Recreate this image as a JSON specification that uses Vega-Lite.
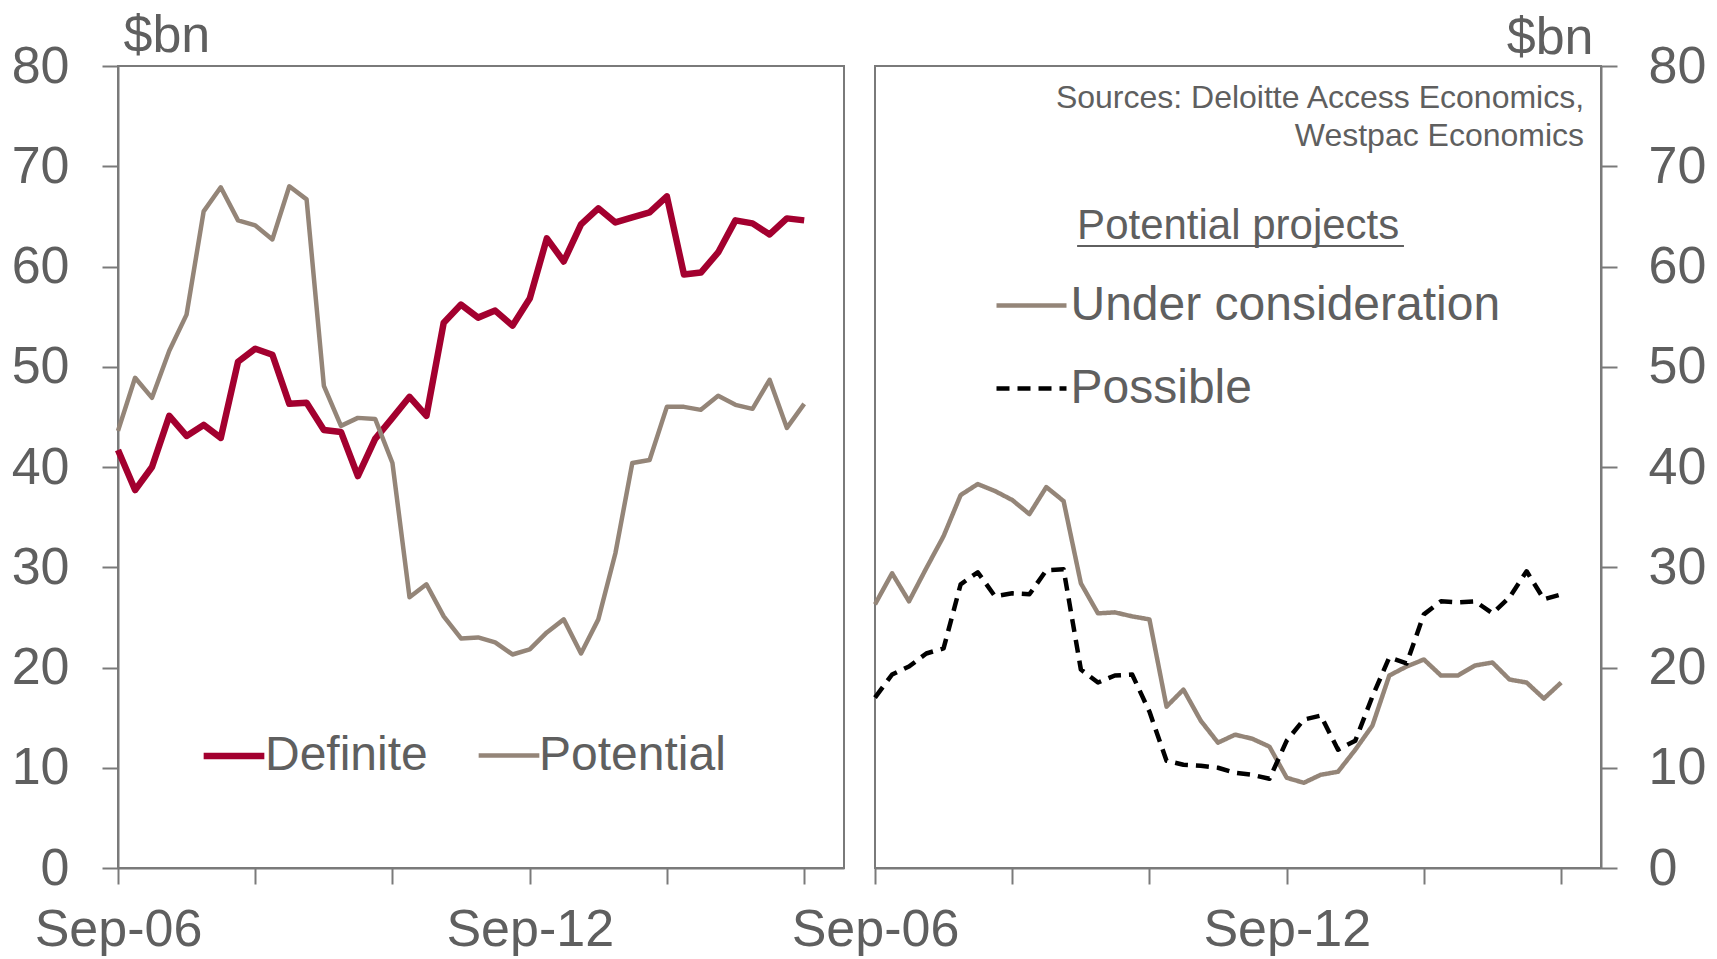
{
  "$schema": "https://vega.github.io/schema/vega-lite/v6.json",
  "padding": {"left": 10, "top": 8, "right": 0, "bottom": 0},
  "background": "white",
  "config": {
    "font": "Liberation Sans",
    "view": {"stroke": "#7a7a7a", "strokeWidth": 2},
    "axis": {"grid": false, "domainColor": "#7a7a7a", "domainWidth": 2, "tickColor": "#7a7a7a", "tickWidth": 2, "tickSize": 16, "labelFontSize": 52, "labelColor": "#5f5f5f", "titleColor": "#5f5f5f", "titleFontSize": 52, "titleFontWeight": "normal", "labelFont": "Liberation Sans", "titleFont": "Liberation Sans"},
    "legend": {"labelFont": "Liberation Sans", "labelFontSize": 48, "labelColor": "#5f5f5f", "symbolType": "stroke", "labelLimit": 0}
  },
  "datasets": {
    "projects": [
      {"date": "2006-09-01", "Definite": 41.7, "Potential": 43.6, "Under consideration": 26.3, "Possible": 17.0},
      {"date": "2006-12-01", "Definite": 37.7, "Potential": 48.9, "Under consideration": 29.4, "Possible": 19.3},
      {"date": "2007-03-01", "Definite": 40.0, "Potential": 46.9, "Under consideration": 26.6, "Possible": 20.1},
      {"date": "2007-06-01", "Definite": 45.1, "Potential": 51.6, "Under consideration": 29.9, "Possible": 21.4},
      {"date": "2007-09-01", "Definite": 43.1, "Potential": 55.2, "Under consideration": 33.1, "Possible": 21.9},
      {"date": "2007-12-01", "Definite": 44.2, "Potential": 65.5, "Under consideration": 37.2, "Possible": 28.3},
      {"date": "2008-03-01", "Definite": 42.9, "Potential": 67.9, "Under consideration": 38.3, "Possible": 29.5},
      {"date": "2008-06-01", "Definite": 50.5, "Potential": 64.6, "Under consideration": 37.6, "Possible": 27.1},
      {"date": "2008-09-01", "Definite": 51.8, "Potential": 64.1, "Under consideration": 36.7, "Possible": 27.4},
      {"date": "2008-12-01", "Definite": 51.2, "Potential": 62.7, "Under consideration": 35.3, "Possible": 27.3},
      {"date": "2009-03-01", "Definite": 46.3, "Potential": 68.0, "Under consideration": 38.0, "Possible": 29.7},
      {"date": "2009-06-01", "Definite": 46.4, "Potential": 66.7, "Under consideration": 36.6, "Possible": 29.8},
      {"date": "2009-09-01", "Definite": 43.7, "Potential": 48.1, "Under consideration": 28.4, "Possible": 19.8},
      {"date": "2009-12-01", "Definite": 43.5, "Potential": 44.1, "Under consideration": 25.4, "Possible": 18.5},
      {"date": "2010-03-01", "Definite": 39.1, "Potential": 44.9, "Under consideration": 25.5, "Possible": 19.2},
      {"date": "2010-06-01", "Definite": 42.8, "Potential": 44.8, "Under consideration": 25.1, "Possible": 19.3},
      {"date": "2010-09-01", "Definite": 44.9, "Potential": 40.4, "Under consideration": 24.8, "Possible": 15.6},
      {"date": "2010-12-01", "Definite": 47.0, "Potential": 27.0, "Under consideration": 16.1, "Possible": 10.7},
      {"date": "2011-03-01", "Definite": 45.1, "Potential": 28.3, "Under consideration": 17.8, "Possible": 10.3},
      {"date": "2011-06-01", "Definite": 54.4, "Potential": 25.1, "Under consideration": 14.7, "Possible": 10.2},
      {"date": "2011-09-01", "Definite": 56.2, "Potential": 22.9, "Under consideration": 12.5, "Possible": 10.0},
      {"date": "2011-12-01", "Definite": 54.9, "Potential": 23.0, "Under consideration": 13.3, "Possible": 9.5},
      {"date": "2012-03-01", "Definite": 55.6, "Potential": 22.5, "Under consideration": 12.9, "Possible": 9.3},
      {"date": "2012-06-01", "Definite": 54.1, "Potential": 21.3, "Under consideration": 12.1, "Possible": 8.9},
      {"date": "2012-09-01", "Definite": 56.8, "Potential": 21.8, "Under consideration": 9.0, "Possible": 12.7},
      {"date": "2012-12-01", "Definite": 62.8, "Potential": 23.5, "Under consideration": 8.5, "Possible": 14.8},
      {"date": "2013-03-01", "Definite": 60.5, "Potential": 24.8, "Under consideration": 9.3, "Possible": 15.2},
      {"date": "2013-06-01", "Definite": 64.2, "Potential": 21.4, "Under consideration": 9.6, "Possible": 11.8},
      {"date": "2013-09-01", "Definite": 65.8, "Potential": 24.8, "Under consideration": 11.8, "Possible": 12.7},
      {"date": "2013-12-01", "Definite": 64.4, "Potential": 31.4, "Under consideration": 14.2, "Possible": 17.1},
      {"date": "2014-03-01", "Definite": 64.9, "Potential": 40.4, "Under consideration": 19.2, "Possible": 21.0},
      {"date": "2014-06-01", "Definite": 65.4, "Potential": 40.7, "Under consideration": 20.1, "Possible": 20.4},
      {"date": "2014-09-01", "Definite": 67.0, "Potential": 46.0, "Under consideration": 20.8, "Possible": 25.3},
      {"date": "2014-12-01", "Definite": 59.2, "Potential": 46.0, "Under consideration": 19.2, "Possible": 26.6},
      {"date": "2015-03-01", "Definite": 59.4, "Potential": 45.7, "Under consideration": 19.2, "Possible": 26.5},
      {"date": "2015-06-01", "Definite": 61.4, "Potential": 47.1, "Under consideration": 20.2, "Possible": 26.6},
      {"date": "2015-09-01", "Definite": 64.6, "Potential": 46.2, "Under consideration": 20.5, "Possible": 25.4},
      {"date": "2015-12-01", "Definite": 64.3, "Potential": 45.8, "Under consideration": 18.8, "Possible": 27.0},
      {"date": "2016-03-01", "Definite": 63.2, "Potential": 48.7, "Under consideration": 18.5, "Possible": 29.6},
      {"date": "2016-06-01", "Definite": 64.8, "Potential": 43.9, "Under consideration": 16.9, "Possible": 26.8},
      {"date": "2016-09-01", "Definite": 64.6, "Potential": 46.3, "Under consideration": 18.5, "Possible": 27.3}
    ]
  },
  "bounds": "flush",
  "spacing": 31,
  "resolve": {
    "scale": {"color": "independent", "strokeWidth": "independent", "strokeDash": "independent"},
    "legend": {"color": "independent", "strokeWidth": "independent", "strokeDash": "independent"}
  },
  "hconcat": [
    {
      "width": 726,
      "height": 802,
      "data": {"name": "projects"},
      "transform": [{"fold": ["Definite", "Potential"], "as": ["series", "value"]}],
      "mark": {"type": "line", "strokeJoin": "round"},
      "encoding": {
        "x": {
          "field": "date", "type": "temporal",
          "scale": {"type": "utc", "domain": [{"year": 2006, "month": 9, "date": 1, "utc": true}, {"year": 2017, "month": 4, "date": 1, "utc": true}]},
          "axis": {
            "title": null,
            "values": [{"year": 2006, "month": 9, "date": 1, "utc": true}, {"year": 2008, "month": 9, "date": 1, "utc": true}, {"year": 2010, "month": 9, "date": 1, "utc": true}, {"year": 2012, "month": 9, "date": 1, "utc": true}, {"year": 2014, "month": 9, "date": 1, "utc": true}, {"year": 2016, "month": 9, "date": 1, "utc": true}],
            "labelExpr": "utcyear(datum.value) == 2006 || utcyear(datum.value) == 2012 ? utcFormat(datum.value, '%b-%y') : ''",
            "labelOverlap": false, "labelFlush": false, "labelBound": false, "labelPadding": 20
          }
        },
        "y": {
          "field": "value", "type": "quantitative",
          "scale": {"domain": [0, 80], "nice": false, "zero": true},
          "axis": {"orient": "left", "values": [0, 10, 20, 30, 40, 50, 60, 70, 80], "labelPadding": 33, "title": "$bn", "titleAngle": 0, "titleAlign": "left", "titleBaseline": "alphabetic", "titleX": 5, "titleY": -15}
        },
        "color": {
          "field": "series", "type": "nominal",
          "scale": {"domain": ["Definite", "Potential"], "range": ["#A3002F", "#948578"]},
          "legend": {"orient": "none", "legendX": 82, "legendY": 656, "direction": "horizontal", "title": null, "symbolSize": 3682, "labelOffset": -3, "columnPadding": 41}
        },
        "strokeWidth": {
          "field": "series", "type": "nominal",
          "scale": {"domain": ["Definite", "Potential"], "range": [6.5, 4.5]},
          "legend": {"orient": "none", "legendX": 82, "legendY": 656, "direction": "horizontal", "title": null, "symbolSize": 3682, "labelOffset": -3, "columnPadding": 41}
        }
      }
    },
    {
      "width": 726,
      "height": 802,
      "layer": [
        {
          "data": {"name": "projects"},
          "transform": [{"fold": ["Under consideration", "Possible"], "as": ["series", "value"]}],
          "mark": {"type": "line", "strokeWidth": 4.5, "strokeJoin": "round"},
          "encoding": {
            "x": {
              "field": "date", "type": "temporal",
              "scale": {"type": "utc", "domain": [{"year": 2006, "month": 9, "date": 1, "utc": true}, {"year": 2017, "month": 4, "date": 1, "utc": true}]},
              "axis": {
                "title": null,
                "values": [{"year": 2006, "month": 9, "date": 1, "utc": true}, {"year": 2008, "month": 9, "date": 1, "utc": true}, {"year": 2010, "month": 9, "date": 1, "utc": true}, {"year": 2012, "month": 9, "date": 1, "utc": true}, {"year": 2014, "month": 9, "date": 1, "utc": true}, {"year": 2016, "month": 9, "date": 1, "utc": true}],
                "labelExpr": "utcyear(datum.value) == 2006 || utcyear(datum.value) == 2012 ? utcFormat(datum.value, '%b-%y') : ''",
                "labelOverlap": false, "labelFlush": false, "labelBound": false, "labelPadding": 20
              }
            },
            "y": {
              "field": "value", "type": "quantitative",
              "scale": {"domain": [0, 80], "nice": false, "zero": true},
              "axis": {"orient": "right", "values": [0, 10, 20, 30, 40, 50, 60, 70, 80], "labelPadding": 31, "title": "$bn", "titleAngle": 0, "titleAlign": "right", "titleBaseline": "alphabetic", "titleX": -8, "titleY": -13}
            },
            "color": {
              "field": "series", "type": "nominal",
              "scale": {"domain": ["Under consideration", "Possible"], "range": ["#948578", "#000000"]},
              "legend": {"orient": "none", "legendX": 119, "legendY": 202, "direction": "vertical", "title": null, "symbolSize": 4900, "symbolStrokeWidth": 4.5, "labelOffset": 1.5, "rowPadding": 21}
            },
            "strokeDash": {
              "field": "series", "type": "nominal",
              "scale": {"domain": ["Under consideration", "Possible"], "range": [[1, 0], [13, 8]]},
              "legend": {"orient": "none", "legendX": 119, "legendY": 202, "direction": "vertical", "title": null, "symbolSize": 4900, "symbolStrokeWidth": 4.5, "labelOffset": 1.5, "rowPadding": 21}
            }
          }
        },
        {
          "data": {"values": [{}]},
          "mark": {"type": "text", "align": "left", "baseline": "alphabetic", "fontSize": 42, "color": "#5f5f5f", "text": "Potential projects"},
          "encoding": {
            "x": {"datum": {"year": 2009, "month": 8, "date": 12, "utc": true}, "type": "temporal"},
            "y": {"datum": 62.75, "type": "quantitative"}
          }
        },
        {
          "data": {"values": [{}]},
          "mark": {"type": "rule", "color": "#5f5f5f", "strokeWidth": 2},
          "encoding": {
            "x": {"datum": {"year": 2009, "month": 8, "date": 12, "utc": true}, "type": "temporal"},
            "x2": {"datum": {"year": 2014, "month": 5, "date": 18, "utc": true}},
            "y": {"datum": 62.05, "type": "quantitative"}
          }
        },
        {
          "data": {"values": [{}]},
          "mark": {"type": "text", "align": "right", "baseline": "alphabetic", "fontSize": 32, "lineHeight": 38, "color": "#5f5f5f", "text": ["Sources: Deloitte Access Economics,", "Westpac Economics"]},
          "encoding": {
            "x": {"datum": {"year": 2017, "month": 1, "date": 1, "utc": true}, "type": "temporal"},
            "y": {"datum": 75.86, "type": "quantitative"}
          }
        }
      ]
    }
  ]
}
